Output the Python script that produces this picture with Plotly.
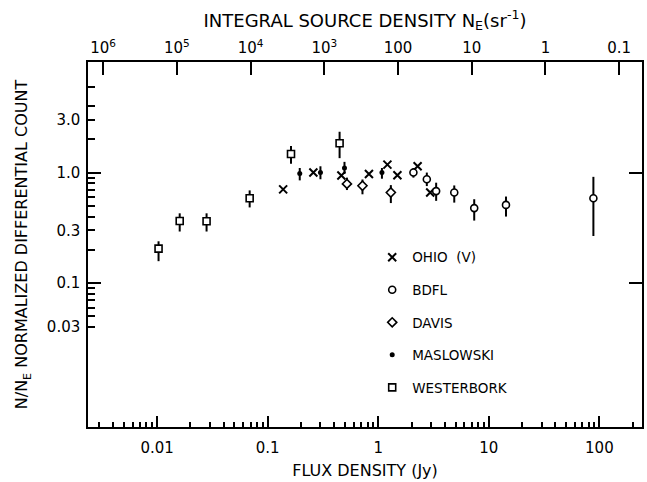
import math
import plotly.graph_objects as go

# ---------------- data ----------------
ohio_S = [0.138, 0.259, 0.464, 0.824, 1.21, 1.49, 2.27, 2.95]
ohio_y = [0.705, 1.0, 0.94, 0.97, 1.18, 0.946, 1.14, 0.66]

bdfl_S = [2.08, 2.75, 3.34, 4.87, 7.38, 14.3, 88.3]
bdfl_y = [1.0, 0.87, 0.68, 0.66, 0.477, 0.51, 0.586]
bdfl_hi = [1.10, 1.0, 0.81, 0.765, 0.574, 0.607, 0.915]
bdfl_lo = [0.90, 0.755, 0.555, 0.535, 0.368, 0.40, 0.267]

davis_S = [0.521, 0.72, 1.30]
davis_y = [0.79, 0.76, 0.66]
davis_hi = [0.90, 0.866, 0.77]
davis_lo = [0.695, 0.636, 0.53]

masl_S = [0.195, 0.30, 0.495, 1.08]
masl_y = [0.98, 1.0, 1.10, 1.0]
masl_hi = [1.10, 1.14, 1.25, 1.10]
masl_lo = [0.85, 0.87, 0.97, 0.88]

west_S = [0.0103, 0.016, 0.028, 0.0687, 0.1625, 0.447]
west_y = [0.205, 0.365, 0.363, 0.586, 1.47, 1.84]
west_hi = [0.239, 0.428, 0.428, 0.69, 1.74, 2.34]
west_lo = [0.158, 0.293, 0.293, 0.484, 1.20, 1.35]

x_ticks = [0.01, 0.1, 1, 10, 100]
x_ticktext = ["0.01", "0.1", "1", "10", "100"]
top_ticks = [1e6, 1e5, 1e4, 1e3, 100, 10, 1, 0.1]
top_ticktext = ["10<sup>6</sup>", "10<sup>5</sup>", "10<sup>4</sup>", "10<sup>3</sup>",
                "100", "10", "1", "0.1"]
y_ticks = [3, 1, 0.3, 0.1, 0.04]
y_ticktext = ["3.0", "1.0", "0.3", "0.1", "0.03"]
y_long_ticks = [1, 0.1]
y_minor = [6, 4, 2, 0.9, 0.8, 0.7, 0.6, 0.5, 0.4, 0.2, 0.09, 0.08, 0.07, 0.06, 0.05]

S_min, S_max = 0.00237, 243.0
y_min, y_max = 0.005, 10.0
logK = 2.268  # N_E = K * S^-1.5

x_minor = []
for d in [-3, -2, -1, 0, 1, 2]:
    for m in range(2, 10):
        v = m * 10 ** d
        if S_min < v < S_max:
            x_minor.append(v)

FONT = "DejaVu Sans"
BLACK = "black"


def errs(y, hi, lo):
    return dict(type="data", symmetric=False,
                array=[h - v for v, h in zip(y, hi)],
                arrayminus=[v - l for v, l in zip(y, lo)],
                color=BLACK, thickness=2, width=0)


fig = go.Figure()
fig.add_trace(go.Scatter(
    x=ohio_S, y=ohio_y, mode="markers", name="OHIO  (Ⅴ)", legendgroup="a",
    marker=dict(symbol="x-thin", size=8, color=BLACK, line=dict(width=2, color=BLACK))))
fig.add_trace(go.Scatter(
    x=bdfl_S, y=bdfl_y, mode="markers", name="BDFL", legendgroup="b",
    error_y=errs(bdfl_y, bdfl_hi, bdfl_lo),
    marker=dict(symbol="circle", size=7, color="white", line=dict(width=1.6, color=BLACK))))
fig.add_trace(go.Scatter(
    x=davis_S, y=davis_y, mode="markers", name="DAVIS", legendgroup="c",
    error_y=errs(davis_y, davis_hi, davis_lo),
    marker=dict(symbol="diamond", size=7, color="white", line=dict(width=1.6, color=BLACK))))
fig.add_trace(go.Scatter(
    x=masl_S, y=masl_y, mode="markers", name="MASLOWSKI", legendgroup="d",
    error_y=errs(masl_y, masl_hi, masl_lo),
    marker=dict(symbol="circle", size=5, color=BLACK, line=dict(width=0))))
fig.add_trace(go.Scatter(
    x=west_S, y=west_y, mode="markers", name="WESTERBORK", legendgroup="e",
    error_y=errs(west_y, west_hi, west_lo),
    marker=dict(symbol="square", size=7, color="white", line=dict(width=1.6, color=BLACK))))
# empty traces so the extra axes are drawn
fig.add_trace(go.Scatter(x=[], y=[], xaxis="x2", yaxis="y", showlegend=False))
fig.add_trace(go.Scatter(x=[], y=[], xaxis="x", yaxis="y2", showlegend=False))
fig.add_trace(go.Scatter(x=[], y=[], xaxis="x", yaxis="y3", showlegend=False))

yr = [math.log10(y_min), math.log10(y_max)]
xr = [math.log10(S_min), math.log10(S_max)]
top_r = [logK - 1.5 * xr[0], logK - 1.5 * xr[1]]

fig.update_layout(
    width=647, height=482,
    margin=dict(l=88, r=5, t=62, b=51),
    paper_bgcolor="white", plot_bgcolor="white",
    font=dict(family=FONT, color=BLACK, size=15),
    showlegend=True,
    legend=dict(x=0.513, y=0.507, xanchor="left", yanchor="top",
                font=dict(size=13.5, family=FONT), traceorder="grouped",
                tracegroupgap=12, bgcolor="rgba(0,0,0,0)"),
    xaxis=dict(type="log", range=xr, showgrid=False, zeroline=False,
               showline=True, linecolor=BLACK, linewidth=1.5,
               ticks="inside", ticklen=11, tickwidth=1.5, tickcolor=BLACK,
               tickmode="array", tickvals=x_ticks, ticktext=x_ticktext,
               ticklabelstandoff=6,
               minor=dict(tickmode="array", tickvals=x_minor, ticks="inside",
                          ticklen=5, tickwidth=1.5, tickcolor=BLACK, showgrid=False),
               title=dict(text="FLUX DENSITY (Jy)", font=dict(size=16), standoff=9)),
    xaxis2=dict(type="log", range=top_r, overlaying="x", side="top", anchor="y",
                showgrid=False, zeroline=False, showline=True, linecolor=BLACK,
                linewidth=1.5, ticks="inside", ticklen=13, tickwidth=1.5,
                tickcolor=BLACK, tickmode="array", tickvals=top_ticks,
                ticktext=top_ticktext, ticklabelstandoff=1,
                title=dict(text="INTEGRAL SOURCE DENSITY N<sub>E</sub>(sr<sup>-1</sup>)",
                           font=dict(size=18), standoff=5)),
    yaxis=dict(type="log", range=yr, showgrid=False, zeroline=False,
               showline=True, linecolor=BLACK, linewidth=1.5,
               ticks="inside", ticklen=7, tickwidth=1.5, tickcolor=BLACK,
               tickmode="array", tickvals=y_ticks, ticktext=y_ticktext,
               ticklabelstandoff=3,
               minor=dict(tickmode="array", tickvals=y_minor, ticks="inside",
                          ticklen=7, tickwidth=1.5, tickcolor=BLACK, showgrid=False),
               title=dict(text="N/N<sub>E</sub> NORMALIZED DIFFERENTIAL COUNT",
                          font=dict(size=16), standoff=15)),
    yaxis2=dict(type="log", range=yr, overlaying="y", side="right", anchor="x",
                showgrid=False, zeroline=False, showline=True, linecolor=BLACK,
                linewidth=1.5, ticks="inside", ticklen=13, tickwidth=1.5,
                tickcolor=BLACK, tickmode="array", tickvals=y_long_ticks,
                showticklabels=False),
    yaxis3=dict(type="log", range=yr, overlaying="y", side="left", anchor="x",
                showgrid=False, zeroline=False, showline=False,
                ticks="inside", ticklen=13, tickwidth=1.5, tickcolor=BLACK,
                tickmode="array", tickvals=y_long_ticks, showticklabels=False),
)

fig.write_html("out.html")
